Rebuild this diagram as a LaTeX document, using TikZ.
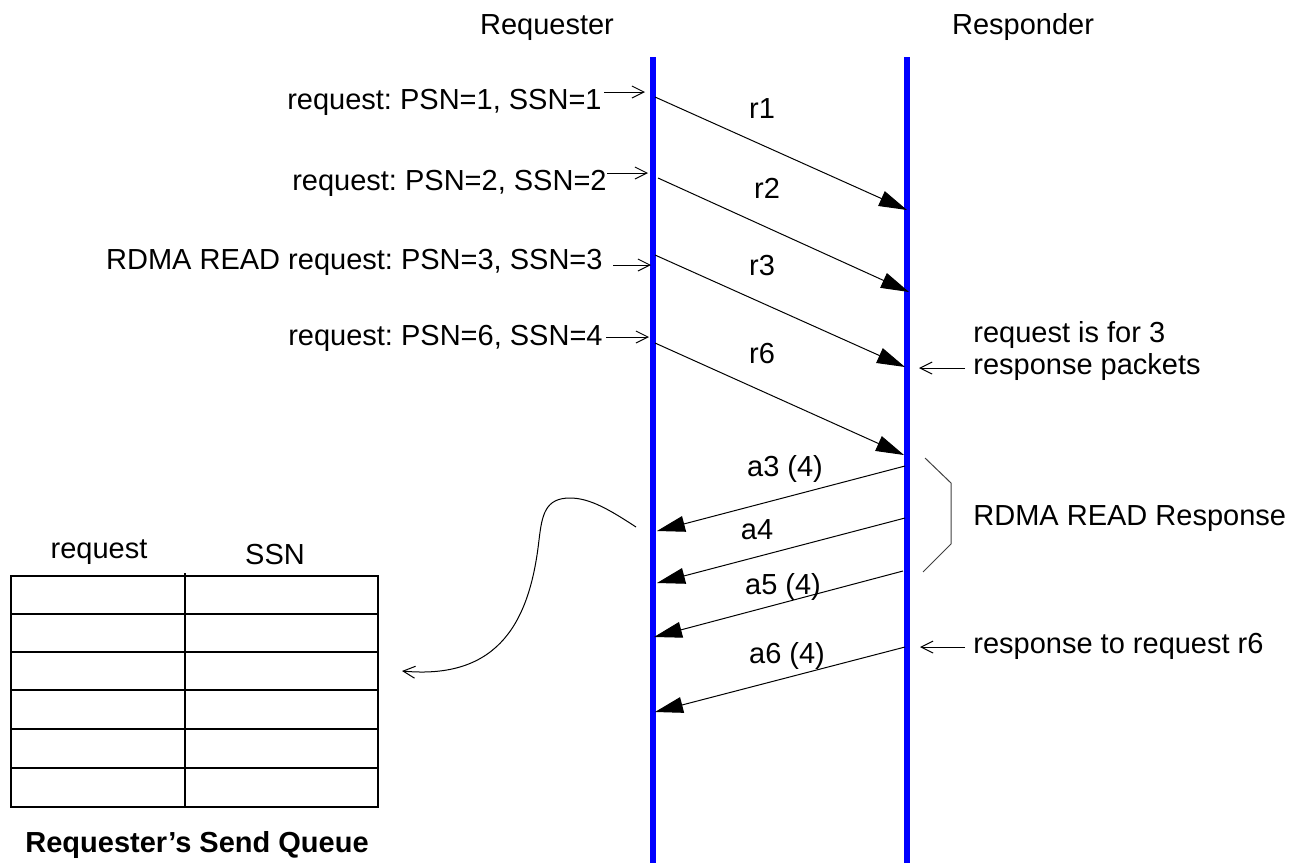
\documentclass[tikz,border=0pt]{standalone}
\usepackage{fontspec}
\setmainfont{Liberation Sans}
\usetikzlibrary{arrows.meta}
\tikzset{
  lifeline/.style={draw=blue, line width=2.6pt},
  pkt/.style={line width=0.5pt, -{Triangle[length=14pt,width=8pt]}},
  ptr/.style={line width=0.5pt, -{Straight Barb[length=6pt,width=6pt]}},
  cell/.style={line width=1pt},
}
\begin{document}
\frenchspacing
\begin{tikzpicture}[x=0.5pt, y=-0.5pt, inner sep=0pt, font=\fontsize{14.5}{16}\selectfont]
	\useasboundingbox (0,0) rectangle (1301,863);
	% the two sides
	\node[anchor=base] (req) at (547,34) {Requester};
	\node[anchor=base] (resp) at (1023,34) {Responder};
	\coordinate (reqtop) at (653,57);  \coordinate (reqbot) at (653,863);
	\coordinate (resptop) at (907,57); \coordinate (respbot) at (907,863);
	\draw[lifeline] (reqtop) -- (reqbot);
	\draw[lifeline] (resptop) -- (respbot);
	% requests posted on the send queue
	\node[anchor=base east] (p1) at (602,109) {request: PSN=1, SSN=1};
	\node[anchor=base east] (p2) at (607,190) {request: PSN=2, SSN=2};
	\node[anchor=base east] (p3) at (603,269) {RDMA READ request: PSN=3, SSN=3};
	\node[anchor=base east] (p4) at (603,345) {request: PSN=6, SSN=4};
	\coordinate (q1) at (645,92);  \coordinate (q2) at (648,173);
	\coordinate (q3) at (651,265); \coordinate (q4) at (649,337);
	\draw[ptr] (p1.east |- q1) ++(2,0) -- (q1);
	\draw[ptr] (p2.east |- q2) -- (q2);
	\draw[ptr] (p3.east |- q3) ++(10,0) -- (q3);
	\draw[ptr] (p4.east |- q4) ++(3,0) -- (q4);
	% request packets
	\coordinate (r1a) at (655,97);  \coordinate (r1b) at (907,210);
	\coordinate (r2a) at (658,178); \coordinate (r2b) at (909,292);
	\coordinate (r3a) at (655,255); \coordinate (r3b) at (905,367);
	\coordinate (r6a) at (655,343); \coordinate (r6b) at (904,455);
	\draw[pkt] (r1a) -- (r1b);
	\draw[pkt] (r2a) -- (r2b);
	\draw[pkt] (r3a) -- (r3b);
	\draw[pkt] (r6a) -- (r6b);
	\node[anchor=base] (lr1) at (762,118) {r1};
	\node[anchor=base] (lr2) at (767,198) {r2};
	\node[anchor=base] (lr3) at (762,275) {r3};
	\node[anchor=base] (lr6) at (762,363) {r6};
	% responses
	\coordinate (a3a) at (905,466); \coordinate (a3b) at (657,531);
	\coordinate (a4a) at (905,518); \coordinate (a4b) at (657,583);
	\coordinate (a5a) at (903,571); \coordinate (a5b) at (654,637);
	\coordinate (a6a) at (905,647); \coordinate (a6b) at (655,712);
	\draw[pkt] (a3a) -- (a3b);
	\draw[pkt] (a4a) -- (a4b);
	\draw[pkt] (a5a) -- (a5b);
	\draw[pkt] (a6a) -- (a6b);
	\node[anchor=base] (la3) at (785,476) {a3 (4)};
	\node[anchor=base] (la4) at (757,539) {a4};
	\node[anchor=base] (la5) at (783,594) {a5 (4)};
	\node[anchor=base] (la6) at (787,663) {a6 (4)};
	% notes on the responder side
	\node[anchor=base west, align=left, font=\fontsize{14.5}{16}\selectfont] (n1) at (973,374) {request is for 3\\response packets};
	\coordinate (m1) at (919,368);
	\draw[ptr] (965,368) -- (m1);
	\draw[line width=0.5pt, black!75] (925,458) -- (951,483) -- (951,544) -- (923,572);
	\node[anchor=base west] (n2) at (973,525) {RDMA READ Response};
	\node[anchor=base west] (n3) at (973,653) {response to request r6};
	\coordinate (m3) at (920,647);
	\draw[ptr] (965,647) -- (m3);
	% send queue
	\node[anchor=base] (hreq) at (99,558) {request};
	\node[anchor=base] (hssn) at (275,564) {SSN};
	\draw[cell] (11,576) rectangle (378,807);
	\foreach \y in {614,652,690,729,768}
		\draw[cell] (11,\y) -- (378,\y);
	\draw[cell] (185,573) -- (185,807);
	\node[anchor=base west, font=\fontsize{14.5}{16}\selectfont\bfseries] (sq) at (25,852) {Requester’s Send Queue};
	\coordinate (cv) at (636,527);
	\coordinate (sqin) at (402,671);
	\draw[ptr] (cv) .. controls (610,510) and (590,498) .. (570,498)
		.. controls (545,498) and (542,515) .. (539,540)
		.. controls (530,620) and (500,680) .. (sqin);
\end{tikzpicture}
\end{document}
